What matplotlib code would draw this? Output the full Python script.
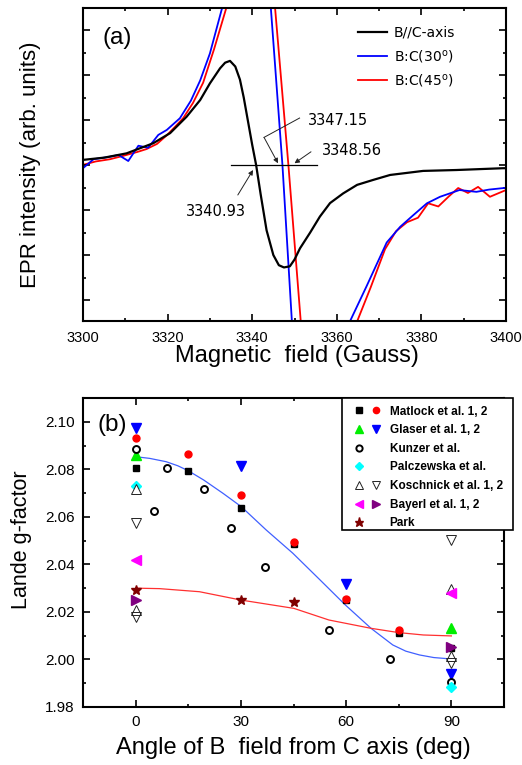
import numpy as np
import matplotlib
matplotlib.use('Agg')
import matplotlib.pyplot as plt
from matplotlib.lines import Line2D
from matplotlib.legend_handler import HandlerTuple
from matplotlib.patches import Rectangle
from matplotlib.ticker import MultipleLocator

plt.rcParams['font.family'] = ['Liberation Sans', 'DejaVu Sans']

# ---------------- Panel (a) data: EPR derivative spectra ----------------
field_c = [3300, 3305, 3310.3, 3316.6, 3320.6, 3324.5, 3327.7, 3330, 3332.4, 3333.6,
           3334.75, 3336, 3337.1, 3338, 3339, 3340, 3340.93, 3342, 3343.4, 3345,
           3346.3, 3347.5, 3348.9, 3350, 3351.3, 3353.7, 3356, 3358.4, 3361.5,
           3364.8, 3368.6, 3372.6, 3380.4, 3388.3, 3399.3, 3400]
int_c = [0.23, 0.33, 0.52, 0.97, 1.42, 2.15, 2.89, 3.63, 4.3, 4.55,
         4.63, 4.38, 3.8, 3.0, 1.95, 0.9, 0.0, -1.3, -2.9, -4.0,
         -4.45, -4.55, -4.5, -4.2, -3.7, -3.0, -2.29, -1.69, -1.26,
         -0.88, -0.66, -0.44, -0.26, -0.22, -0.14, -0.14]

field_30 = [3300, 3302.5, 3306.4, 3308.4, 3310.7, 3313.1, 3315.4, 3317.8, 3319.8, 3322.9,
            3325.5, 3327.7, 3330, 3333, 3336, 3339, 3342, 3344.4, 3347.15, 3349.4,
            3352, 3356, 3360, 3363.1, 3367, 3371.8, 3375, 3378, 3381.3, 3384.4,
            3389, 3393, 3396, 3400]
int_30 = [-0.14, 0.26, 0.37, 0.45, 0.18, 0.86, 0.77, 1.34, 1.56, 2.08,
          2.86, 3.76, 4.96, 7.06, 10.0, 12.0, 10.5, 7.0, 0.0, -7.0,
          -12.0, -14.0, -12.0, -6.95, -5.4, -3.44, -2.74, -2.24, -1.7, -1.41,
          -1.11, -1.19, -1.09, -1.01]

field_45 = [3300, 3303, 3306.4, 3309.5, 3312.8, 3315, 3317.5, 3319.9, 3321.8, 3323.7,
            3326, 3328.4, 3331, 3334, 3337, 3340, 3343, 3345.4, 3348.56, 3351.5,
            3354, 3358, 3362, 3364.8, 3368, 3371.4, 3374, 3376.6, 3379.2, 3381.6,
            3384, 3386.5, 3388.7, 3391, 3393.4, 3396.2, 3400]
int_45 = [0.01, 0.16, 0.26, 0.41, 0.58, 0.71, 0.94, 1.34, 1.71, 2.09,
          2.76, 3.66, 5.16, 7.06, 10.0, 12.0, 10.5, 7.0, 0.0, -7.0,
          -12.0, -14.0, -11.5, -6.95, -5.44, -3.74, -2.94, -2.54, -2.34, -1.7,
          -1.84, -1.39, -1.02, -1.24, -0.97, -1.41, -1.11]

labels_a = ['B//C-axis', 'B:C(30$^{\\rm o}$)', 'B:C(45$^{\\rm o}$)']
crossings = ['3340.93', '3347.15', '3348.56']

# ---------------- Panel (b) data: g-factor vs angle ----------------
matlock1_ang = [0, 15, 30, 45, 60, 75, 90]
matlock1_g = [2.0804, 2.0793, 2.0636, 2.0484, 2.0250, 2.0110, 2.0047]
matlock2_ang = [0, 15, 30, 45, 60, 75]
matlock2_g = [2.0930, 2.0864, 2.0692, 2.0495, 2.0253, 2.0124]
glaser1_ang = [0, 90]
glaser1_g = [2.0860, 2.0131]
glaser2_ang = [0, 30, 60, 90]
glaser2_g = [2.0974, 2.0815, 2.0317, 1.9939]
kunzer_ang = [0, 5.1, 8.9, 19.4, 27.1, 37.0, 55.1, 72.4, 90]
kunzer_g = [2.0884, 2.0625, 2.0804, 2.0717, 2.0554, 2.0390, 2.0124, 2.0002, 1.9906]
palcz_ang = [0, 90]
palcz_g = [2.0730, 1.9885]
kosch1_ang = [0, 0, 90, 90]
kosch1_g = [2.0716, 2.0207, 2.0295, 2.0015]
kosch2_ang = [0, 0, 90, 90]
kosch2_g = [2.0575, 2.0180, 2.0503, 1.9986]
bayerl1_ang = [0, 90]
bayerl1_g = [2.0418, 2.0278]
bayerl2_ang = [0, 90]
bayerl2_g = [2.0250, 2.0051]
park_ang = [0, 30, 45]
park_g = [2.0292, 2.0250, 2.0240]

fit_blue_ang = [0, 4, 8.7, 12, 15, 19.4, 24.9, 30.1, 37.2, 44.8, 52.4, 59.8, 67.1, 73.3,
                77, 80.9, 85, 90]
fit_blue_g = [2.0853, 2.0846, 2.0832, 2.0815, 2.0794, 2.0755, 2.0699, 2.0643, 2.0545,
              2.0447, 2.0337, 2.0229, 2.0131, 2.0061, 2.0035, 2.0019, 2.0008, 2.0002]
fit_red_ang = [0, 6.8, 18.2, 30, 45.1, 55.1, 67.1, 75, 82, 90]
fit_red_g = [2.0300, 2.0298, 2.0285, 2.0250, 2.0215, 2.0166, 2.0131, 2.0113, 2.0103, 2.0099]

legend_b = ['Matlock et al. 1, 2', 'Glaser et al. 1, 2', 'Kunzer et al.',
            'Palczewska et al.', 'Koschnick et al. 1, 2', 'Bayerl et al. 1, 2', 'Park']

W, H = 522, 765
fig = plt.figure(figsize=(W / 100, H / 100), dpi=100)
axa = fig.add_axes([83 / W, 1 - 321 / H, (506 - 83) / W, (321 - 8) / H])
axb = fig.add_axes([83 / W, 1 - 707 / H, (504 - 83) / W, (707 - 398) / H])


def style_axes(ax):
    for s in ax.spines.values():
        s.set_linewidth(1.5)
    ax.tick_params(which='both', direction='in', top=True, right=True, width=1.2)
    ax.tick_params(which='major', length=5)
    ax.tick_params(which='minor', length=2.5)


# ---------------- Panel (a) ----------------
style_axes(axa)
axa.plot(field_c, int_c, color='black', lw=1.6, label=labels_a[0], zorder=3)
axa.plot(field_30, int_30, color='#0000ff', lw=1.3, label=labels_a[1], zorder=2)
axa.plot(field_45, int_45, color='#ff0000', lw=1.3, label=labels_a[2], zorder=1)
axa.set_xlim(3300, 3400)
axa.set_ylim(-6.93, 6.98)
axa.xaxis.set_major_locator(MultipleLocator(20))
axa.xaxis.set_minor_locator(MultipleLocator(10))
axa.set_yticks([-6, -4, -2, 0, 2, 4, 6])
axa.set_yticks([-5, -3, -1, 1, 3, 5], minor=True)
axa.set_yticklabels([])
axa.tick_params(axis='x', labelsize=10.5, pad=7)
axa.set_xlabel('Magnetic  field (Gauss)', fontsize=17)
axa.xaxis.set_label_coords(0.505, -0.112)
axa.xaxis.label.set_va('center')
axa.set_ylabel('EPR intensity (arb. units)', fontsize=16)
axa.yaxis.set_label_coords(-0.125, 0.5)
axa.yaxis.label.set_va('center')
axa.text(0.08, 0.905, '(a)', transform=axa.transAxes, fontsize=17.5,
         ha='center', va='center')

leg_a = axa.legend(loc='upper left', bbox_to_anchor=(0.633, 0.965), frameon=False,
                   prop={'family': 'DejaVu Sans', 'size': 10}, handlelength=2.1,
                   handletextpad=0.5, labelspacing=0.55, borderpad=0)

# annotations
ann_font = {'family': 'DejaVu Sans', 'size': 10.5}
axa.plot([3334.9, 3355.4], [0, 0], color='black', lw=0.9, zorder=4)
arrow_kw = dict(arrowstyle='-|>', lw=0.7, color='#222222', mutation_scale=7,
                shrinkA=0, shrinkB=0)
axa.text(3331.5, -2.07, crossings[0], ha='center', va='center', **ann_font)
axa.annotate('', xy=(3340.2, -0.22), xytext=(3336.6, -1.33), arrowprops=arrow_kw)
axa.text(3353.1, 2.0, crossings[1], ha='left', va='center', **ann_font)
axa.plot([3351.2, 3342.8], [2.09, 1.23], color='#222222', lw=0.7)
axa.annotate('', xy=(3346.1, 0.08), xytext=(3342.8, 1.23), arrowprops=arrow_kw)
axa.text(3356.4, 0.64, crossings[2], ha='left', va='center', **ann_font)
axa.annotate('', xy=(3350.0, 0.08), xytext=(3353.9, 0.59), arrowprops=arrow_kw)

# ---------------- Panel (b) ----------------
style_axes(axb)
axb.plot(fit_blue_ang, fit_blue_g, color='#4060ff', lw=0.9, zorder=1)
axb.plot(fit_red_ang, fit_red_g, color='#ff3030', lw=0.9, zorder=1)

h_m1, = axb.plot(matlock1_ang, matlock1_g, 's', color='black', ms=4.3, ls='none', zorder=3)
h_m2, = axb.plot(matlock2_ang, matlock2_g, 'o', color='#ff0000', ms=5, ls='none', zorder=3)
h_g1, = axb.plot(glaser1_ang, glaser1_g, '^', color='#00ee00', ms=6.5, ls='none', zorder=3)
h_g2, = axb.plot(glaser2_ang, glaser2_g, 'v', color='#0000ff', ms=6.5, ls='none', zorder=3)
h_k, = axb.plot(kunzer_ang, kunzer_g, 'o', mfc='white', mec='black', mew=1.4, ms=5,
                ls='none', zorder=3)
h_p, = axb.plot(palcz_ang, palcz_g, 'D', color='#00ffff', ms=5, ls='none', zorder=3)
h_k1, = axb.plot(kosch1_ang, kosch1_g, '^', mfc='white', mec='#222222', mew=0.7, ms=6.5,
                 ls='none', zorder=3)
h_k2, = axb.plot(kosch2_ang, kosch2_g, 'v', mfc='none', mec='#222222', mew=0.7, ms=6.5,
                 ls='none', zorder=3)
h_b1, = axb.plot(bayerl1_ang, bayerl1_g, '<', color='#ff00ff', ms=6.5, ls='none', zorder=3)
h_b2, = axb.plot(bayerl2_ang, bayerl2_g, '>', color='#800080', ms=6.5, ls='none', zorder=3)
h_pk, = axb.plot(park_ang, park_g, '*', color='#800000', ms=7.5, ls='none', zorder=3)

axb.set_xlim(-15, 105)
axb.set_ylim(1.98, 2.11)
axb.set_xticks([0, 30, 60, 90])
axb.set_xticks([-15, 15, 45, 75], minor=True)
axb.yaxis.set_major_locator(MultipleLocator(0.02))
axb.yaxis.set_minor_locator(MultipleLocator(0.01))
axb.yaxis.set_major_formatter(matplotlib.ticker.FormatStrFormatter('%.2f'))
axb.tick_params(labelsize=11, pad=6)
axb.set_xlabel('Angle of B  field from C axis (deg)', fontsize=17)
axb.xaxis.set_label_coords(0.5, -0.133)
axb.xaxis.label.set_va('center')
axb.set_ylabel('Lande g-factor', fontsize=15.5)
axb.yaxis.set_label_coords(-0.145, 0.54)
axb.yaxis.label.set_va('center')
axb.text(0.07, 0.913, '(b)', transform=axb.transAxes, fontsize=17.5,
         ha='center', va='center')

# legend box for panel (b)
box = Rectangle((342 / W, 1 - 530 / H), (513 - 342) / W, (530 - 398) / H,
                transform=fig.transFigure, facecolor='white', edgecolor='black',
                lw=1.2, zorder=5)
fig.add_artist(box)
blank = Line2D([], [], ls='none', marker='none')
handles = [(h_m1, h_m2), (h_g1, h_g2), (h_k, blank), (h_p, blank),
           (h_k1, h_k2), (h_b1, h_b2), (h_pk, blank)]
leg_b = fig.legend(handles, legend_b, loc='upper left',
                   bbox_to_anchor=(340 / W, 1 - 395 / H), bbox_transform=fig.transFigure,
                   frameon=False, prop={'family': 'Liberation Sans', 'size': 8.5,
                                        'weight': 'bold'},
                   handler_map={tuple: HandlerTuple(ndivide=None, pad=0.0)},
                   handlelength=2.9, handletextpad=0.4, labelspacing=0.56,
                   borderpad=0.4, markerscale=0.9)
leg_b.set_zorder(6)

fig.savefig('out.png', dpi=100)
